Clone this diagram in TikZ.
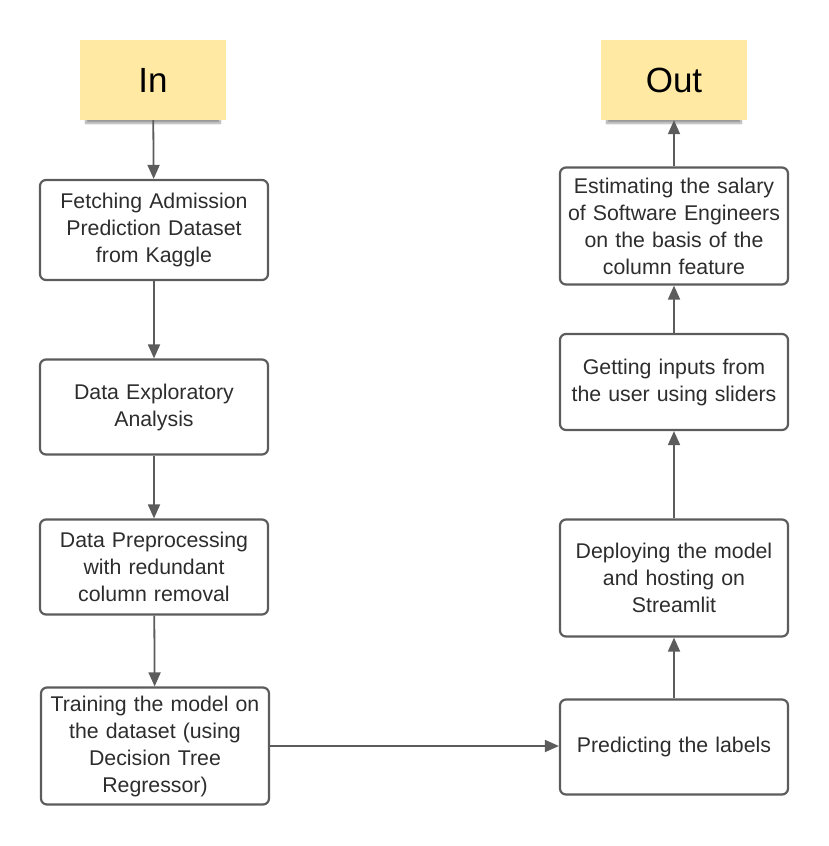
\documentclass[tikz,border=0pt]{standalone}
\usepackage{fontspec}
\setmainfont{Liberation Sans}
\usetikzlibrary{arrows.meta,shadows.blur}
\definecolor{stickyyellow}{RGB}{255,233,163}
\definecolor{linegray}{RGB}{92,92,92}
\definecolor{textgray}{RGB}{45,45,45}

\tikzstyle{sticky}=[fill=stickyyellow, minimum width=146pt, minimum height=80pt, inner sep=0pt, font=\fontsize{35}{40}\selectfont, blur shadow={shadow xshift=0pt, shadow yshift=-7pt, shadow scale=0.92, shadow blur steps=10, shadow opacity=40}]
\tikzstyle{process}=[draw=linegray, line width=2.2pt, rounded corners=6pt, fill=white, minimum width=228pt, text width=226pt, inner sep=1pt, align=center, text=textgray, font=\fontsize{21.3}{27}\selectfont]
\tikzstyle{flow}=[draw=linegray, line width=1.8pt, -{Triangle[length=14pt,width=12pt]}]

\begin{document}
\begin{tikzpicture}[x=1pt, y=-1pt]
		\useasboundingbox (0,0) rectangle (828,846);
		\node[sticky] (in) at (153,80) {In};
		\node[sticky] (out) at (674,80) {Out};
		\foreach \pos/\name/\h/\txt in {{(154,230)/fetch/100/Fetching Admission\\Prediction Dataset\\from Kaggle},
			{(154,407)/explore/95/Data Exploratory\\Analysis},
			{(154,567)/prep/95/Data Preprocessing\\with redundant\\column removal},
			{(155,746)/train/117/Training the model on\\the dataset (using\\Decision Tree\\Regressor)},
			{(674,747)/predict/95/Predicting the labels},
			{(674,578)/deploy/117/Deploying the model\\and hosting on\\Streamlit},
			{(674,382)/inputs/96/Getting inputs from\\the user using sliders},
			{(674,226)/estimate/117/Estimating the salary\\of Software Engineers\\on the basis of the\\column feature}}
			\node[process, minimum height=\h pt] (\name) at \pos {\txt};
		\foreach \source/\dest in {in/fetch, fetch/explore, explore/prep, prep/train, predict/deploy, deploy/inputs, inputs/estimate, estimate/out}
			\path[flow] (\source) -- (\dest);
		\path[flow] (train) -- (predict.west |- train);
	\end{tikzpicture}
\end{document}
